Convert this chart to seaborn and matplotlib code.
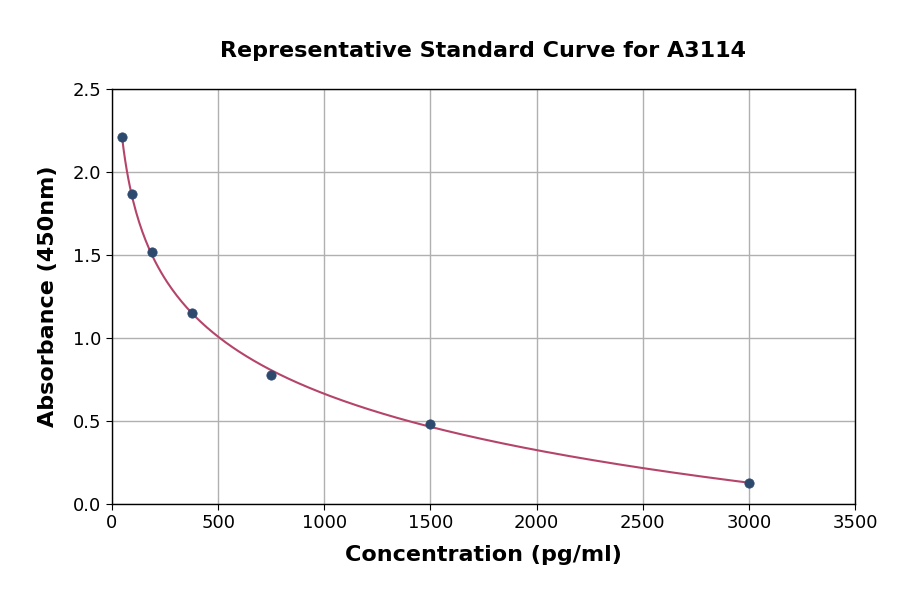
# Standard curve plot for A3114

import numpy as np
import pandas as pd
import matplotlib
matplotlib.use("Agg")
import matplotlib.pyplot as plt
import seaborn as sns

# Data
concentration = [46.875, 93.75, 187.5, 375, 750, 1500, 3000]
absorbance = [2.21, 1.865, 1.518, 1.152, 0.777, 0.482, 0.128]

POINT_COLOR = "#2d4a6e"
LINE_COLOR = "#b5446b"

df = pd.DataFrame({"conc": concentration, "od": absorbance})

# Fit a quadratic in log(concentration) for the smooth curve
coef = np.polyfit(np.log(df["conc"]), df["od"], 2)
xs = np.linspace(df["conc"].min(), df["conc"].max(), 400)
fit = pd.DataFrame({"conc": xs, "od": np.polyval(coef, np.log(xs))})

sns.set_style("white")
plt.rcParams["font.family"] = ["DejaVu Sans"]
plt.rcParams["text.color"] = "black"
plt.rcParams["axes.labelcolor"] = "black"
plt.rcParams["xtick.color"] = "black"
plt.rcParams["ytick.color"] = "black"

fig = plt.figure(figsize=(9, 5.94), dpi=100)
ax = fig.add_axes([0.1244, 0.1515, 0.8256, 0.6985])

sns.lineplot(data=fit, x="conc", y="od", ax=ax, color=LINE_COLOR, linewidth=1.5, zorder=2)
sns.scatterplot(data=df, x="conc", y="od", ax=ax, color=POINT_COLOR, s=45,
                edgecolor=POINT_COLOR, zorder=3)

ax.set_xlim(0, 3500)
ax.set_ylim(0, 2.5)
ax.set_xticks(np.arange(0, 3501, 500))
ax.set_yticks(np.arange(0, 2.51, 0.5))
ax.grid(True, color="#b0b0b0", linewidth=1)
ax.set_axisbelow(True)
for s in ax.spines.values():
    s.set_color("black")
    s.set_linewidth(1)
ax.tick_params(axis="both", labelsize=13, length=4, direction="out", color="black",
               labelcolor="black", left=True, bottom=True)

ax.set_xlabel("Concentration (pg/ml)", fontsize=16, fontweight="bold", labelpad=9)
ax.set_ylabel("Absorbance (450nm)", fontsize=16, fontweight="bold", labelpad=11)
ax.set_title("Representative Standard Curve for A3114", fontsize=16, fontweight="bold",
             pad=23, color="black")

fig.savefig("out.png", dpi=100)
